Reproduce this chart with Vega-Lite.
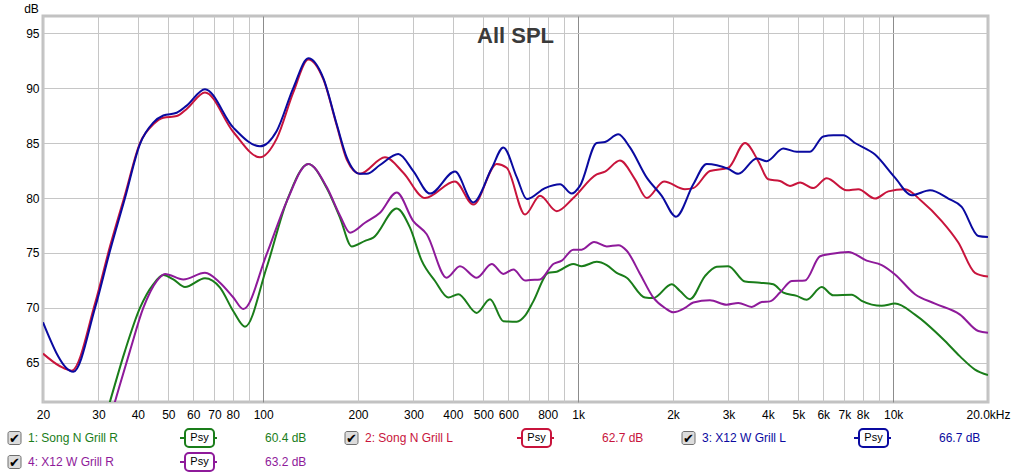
{
  "$schema": "https://vega.github.io/schema/vega-lite/v6.json",
  "background": "white",
  "padding": {"left": 5, "top": 0, "right": 0, "bottom": 0},
  "spacing": 0,
  "config": {"font": "Liberation Sans"},
  "datasets": {
    "curves": [
      {"s": "1: Song N Grill R", "f": 30.33, "db": 58.4},
      {"s": "1: Song N Grill R", "f": 32.64, "db": 61.5},
      {"s": "1: Song N Grill R", "f": 36.42, "db": 66.1},
      {"s": "1: Song N Grill R", "f": 40.63, "db": 70.0},
      {"s": "1: Song N Grill R", "f": 44.78, "db": 72.15},
      {"s": "1: Song N Grill R", "f": 48.19, "db": 73.0},
      {"s": "1: Song N Grill R", "f": 51.84, "db": 72.6},
      {"s": "1: Song N Grill R", "f": 56.47, "db": 71.9},
      {"s": "1: Song N Grill R", "f": 65.35, "db": 72.7},
      {"s": "1: Song N Grill R", "f": 72.94, "db": 71.85},
      {"s": "1: Song N Grill R", "f": 80.41, "db": 69.7},
      {"s": "1: Song N Grill R", "f": 87.56, "db": 68.3},
      {"s": "1: Song N Grill R", "f": 102.6, "db": 73.7},
      {"s": "1: Song N Grill R", "f": 118.8, "db": 79.7},
      {"s": "1: Song N Grill R", "f": 139.1, "db": 83.1},
      {"s": "1: Song N Grill R", "f": 159.1, "db": 80.9},
      {"s": "1: Song N Grill R", "f": 175.4, "db": 78.2},
      {"s": "1: Song N Grill R", "f": 191.0, "db": 75.6},
      {"s": "1: Song N Grill R", "f": 210.5, "db": 76.1},
      {"s": "1: Song N Grill R", "f": 223.7, "db": 76.4},
      {"s": "1: Song N Grill R", "f": 265.4, "db": 79.05},
      {"s": "1: Song N Grill R", "f": 292.5, "db": 77.3},
      {"s": "1: Song N Grill R", "f": 318.6, "db": 74.3},
      {"s": "1: Song N Grill R", "f": 351.2, "db": 72.45},
      {"s": "1: Song N Grill R", "f": 386.9, "db": 70.95},
      {"s": "1: Song N Grill R", "f": 416.3, "db": 71.25},
      {"s": "1: Song N Grill R", "f": 476.3, "db": 69.55},
      {"s": "1: Song N Grill R", "f": 525.0, "db": 70.8},
      {"s": "1: Song N Grill R", "f": 578.6, "db": 68.8},
      {"s": "1: Song N Grill R", "f": 638.3, "db": 68.75},
      {"s": "1: Song N Grill R", "f": 678.2, "db": 69.3},
      {"s": "1: Song N Grill R", "f": 720.5, "db": 70.6},
      {"s": "1: Song N Grill R", "f": 804.0, "db": 73.2},
      {"s": "1: Song N Grill R", "f": 854.9, "db": 73.3},
      {"s": "1: Song N Grill R", "f": 965, "db": 74.0},
      {"s": "1: Song N Grill R", "f": 1026, "db": 73.8},
      {"s": "1: Song N Grill R", "f": 1145, "db": 74.2},
      {"s": "1: Song N Grill R", "f": 1232, "db": 73.9},
      {"s": "1: Song N Grill R", "f": 1325, "db": 73.2},
      {"s": "1: Song N Grill R", "f": 1426, "db": 72.75},
      {"s": "1: Song N Grill R", "f": 1630, "db": 70.95},
      {"s": "1: Song N Grill R", "f": 1732, "db": 70.9},
      {"s": "1: Song N Grill R", "f": 1981, "db": 72.15},
      {"s": "1: Song N Grill R", "f": 2105, "db": 71.55},
      {"s": "1: Song N Grill R", "f": 2265, "db": 70.8},
      {"s": "1: Song N Grill R", "f": 2527, "db": 72.9},
      {"s": "1: Song N Grill R", "f": 2753, "db": 73.75},
      {"s": "1: Song N Grill R", "f": 2996, "db": 73.8},
      {"s": "1: Song N Grill R", "f": 3386, "db": 72.4},
      {"s": "1: Song N Grill R", "f": 3778, "db": 72.3},
      {"s": "1: Song N Grill R", "f": 4163, "db": 72.15},
      {"s": "1: Song N Grill R", "f": 4479, "db": 71.4},
      {"s": "1: Song N Grill R", "f": 4940, "db": 71.1},
      {"s": "1: Song N Grill R", "f": 5315, "db": 70.75},
      {"s": "1: Song N Grill R", "f": 5930, "db": 71.9},
      {"s": "1: Song N Grill R", "f": 6455, "db": 71.15},
      {"s": "1: Song N Grill R", "f": 7385, "db": 71.2},
      {"s": "1: Song N Grill R", "f": 7944, "db": 70.65},
      {"s": "1: Song N Grill R", "f": 9197, "db": 70.2},
      {"s": "1: Song N Grill R", "f": 10134, "db": 70.4},
      {"s": "1: Song N Grill R", "f": 11728, "db": 69.4},
      {"s": "1: Song N Grill R", "f": 14608, "db": 67.0},
      {"s": "1: Song N Grill R", "f": 16299, "db": 65.6},
      {"s": "1: Song N Grill R", "f": 18186, "db": 64.4},
      {"s": "1: Song N Grill R", "f": 20000, "db": 63.9},

      {"s": "2: Song N Grill L", "f": 20, "db": 65.85},
      {"s": "2: Song N Grill L", "f": 22.65, "db": 64.7},
      {"s": "2: Song N Grill L", "f": 24.67, "db": 64.3},
      {"s": "2: Song N Grill L", "f": 29.25, "db": 70.4},
      {"s": "2: Song N Grill L", "f": 32.64, "db": 75.6},
      {"s": "2: Song N Grill L", "f": 36.42, "db": 80.3},
      {"s": "2: Song N Grill L", "f": 40.63, "db": 85.0},
      {"s": "2: Song N Grill L", "f": 44.78, "db": 86.7},
      {"s": "2: Song N Grill L", "f": 48.19, "db": 87.3},
      {"s": "2: Song N Grill L", "f": 53.15, "db": 87.45},
      {"s": "2: Song N Grill L", "f": 57.18, "db": 88.1},
      {"s": "2: Song N Grill L", "f": 65.35, "db": 89.6},
      {"s": "2: Song N Grill L", "f": 80.41, "db": 86.0},
      {"s": "2: Song N Grill L", "f": 97.71, "db": 83.7},
      {"s": "2: Song N Grill L", "f": 110.4, "db": 85.4},
      {"s": "2: Song N Grill L", "f": 124.6, "db": 89.6},
      {"s": "2: Song N Grill L", "f": 139.1, "db": 92.6},
      {"s": "2: Song N Grill L", "f": 155.2, "db": 90.8},
      {"s": "2: Song N Grill L", "f": 171.2, "db": 86.6},
      {"s": "2: Song N Grill L", "f": 184.2, "db": 83.5},
      {"s": "2: Song N Grill L", "f": 202.9, "db": 82.2},
      {"s": "2: Song N Grill L", "f": 243.6, "db": 83.7},
      {"s": "2: Song N Grill L", "f": 278.5, "db": 82.3},
      {"s": "2: Song N Grill L", "f": 326.4, "db": 80.0},
      {"s": "2: Song N Grill L", "f": 406.3, "db": 81.5},
      {"s": "2: Song N Grill L", "f": 464.6, "db": 79.4},
      {"s": "2: Song N Grill L", "f": 551.4, "db": 83.1},
      {"s": "2: Song N Grill L", "f": 593.2, "db": 82.75},
      {"s": "2: Song N Grill L", "f": 678.2, "db": 78.5},
      {"s": "2: Song N Grill L", "f": 756.7, "db": 80.2},
      {"s": "2: Song N Grill L", "f": 854.9, "db": 78.8},
      {"s": "2: Song N Grill L", "f": 965, "db": 80.0},
      {"s": "2: Song N Grill L", "f": 1145, "db": 82.15},
      {"s": "2: Song N Grill L", "f": 1217, "db": 82.4},
      {"s": "2: Song N Grill L", "f": 1357, "db": 83.4},
      {"s": "2: Song N Grill L", "f": 1515, "db": 81.7},
      {"s": "2: Song N Grill L", "f": 1651, "db": 80.0},
      {"s": "2: Song N Grill L", "f": 1873, "db": 81.5},
      {"s": "2: Song N Grill L", "f": 2183, "db": 80.8},
      {"s": "2: Song N Grill L", "f": 2320, "db": 80.9},
      {"s": "2: Song N Grill L", "f": 2620, "db": 82.45},
      {"s": "2: Song N Grill L", "f": 2996, "db": 82.75},
      {"s": "2: Song N Grill L", "f": 3386, "db": 85.0},
      {"s": "2: Song N Grill L", "f": 3731, "db": 83.35},
      {"s": "2: Song N Grill L", "f": 4014, "db": 81.7},
      {"s": "2: Song N Grill L", "f": 4372, "db": 81.55},
      {"s": "2: Song N Grill L", "f": 4704, "db": 81.1},
      {"s": "2: Song N Grill L", "f": 5061, "db": 81.4},
      {"s": "2: Song N Grill L", "f": 5578, "db": 80.9},
      {"s": "2: Song N Grill L", "f": 6151, "db": 81.8},
      {"s": "2: Song N Grill L", "f": 7120, "db": 80.7},
      {"s": "2: Song N Grill L", "f": 7749, "db": 80.8},
      {"s": "2: Song N Grill L", "f": 8757, "db": 79.95},
      {"s": "2: Song N Grill L", "f": 9650, "db": 80.6},
      {"s": "2: Song N Grill L", "f": 10903, "db": 80.8},
      {"s": "2: Song N Grill L", "f": 12320, "db": 79.7},
      {"s": "2: Song N Grill L", "f": 14260, "db": 77.9},
      {"s": "2: Song N Grill L", "f": 16098, "db": 75.95},
      {"s": "2: Song N Grill L", "f": 18186, "db": 73.2},
      {"s": "2: Song N Grill L", "f": 20000, "db": 72.85},

      {"s": "3: X12 W Grill L", "f": 20, "db": 68.7},
      {"s": "3: X12 W Grill L", "f": 24.96, "db": 64.2},
      {"s": "3: X12 W Grill L", "f": 29.25, "db": 70.0},
      {"s": "3: X12 W Grill L", "f": 32.64, "db": 75.2},
      {"s": "3: X12 W Grill L", "f": 36.42, "db": 80.0},
      {"s": "3: X12 W Grill L", "f": 40.63, "db": 84.9},
      {"s": "3: X12 W Grill L", "f": 44.78, "db": 86.85},
      {"s": "3: X12 W Grill L", "f": 48.19, "db": 87.5},
      {"s": "3: X12 W Grill L", "f": 53.15, "db": 87.75},
      {"s": "3: X12 W Grill L", "f": 57.18, "db": 88.4},
      {"s": "3: X12 W Grill L", "f": 65.35, "db": 89.9},
      {"s": "3: X12 W Grill L", "f": 80.41, "db": 86.4},
      {"s": "3: X12 W Grill L", "f": 97.71, "db": 84.7},
      {"s": "3: X12 W Grill L", "f": 110.4, "db": 86.1},
      {"s": "3: X12 W Grill L", "f": 124.6, "db": 90.0},
      {"s": "3: X12 W Grill L", "f": 139.1, "db": 92.7},
      {"s": "3: X12 W Grill L", "f": 155.2, "db": 90.9},
      {"s": "3: X12 W Grill L", "f": 171.2, "db": 86.7},
      {"s": "3: X12 W Grill L", "f": 184.2, "db": 83.7},
      {"s": "3: X12 W Grill L", "f": 202.9, "db": 82.2},
      {"s": "3: X12 W Grill L", "f": 213.2, "db": 82.2},
      {"s": "3: X12 W Grill L", "f": 234.9, "db": 83.0},
      {"s": "3: X12 W Grill L", "f": 268.5, "db": 84.0},
      {"s": "3: X12 W Grill L", "f": 299.6, "db": 82.45},
      {"s": "3: X12 W Grill L", "f": 338.6, "db": 80.4},
      {"s": "3: X12 W Grill L", "f": 406.3, "db": 82.4},
      {"s": "3: X12 W Grill L", "f": 464.6, "db": 79.6},
      {"s": "3: X12 W Grill L", "f": 531.6, "db": 82.7},
      {"s": "3: X12 W Grill L", "f": 578.6, "db": 84.6},
      {"s": "3: X12 W Grill L", "f": 638.3, "db": 81.9},
      {"s": "3: X12 W Grill L", "f": 687, "db": 79.9},
      {"s": "3: X12 W Grill L", "f": 784.8, "db": 80.9},
      {"s": "3: X12 W Grill L", "f": 875.8, "db": 81.25},
      {"s": "3: X12 W Grill L", "f": 953.8, "db": 80.4},
      {"s": "3: X12 W Grill L", "f": 1013, "db": 81.1},
      {"s": "3: X12 W Grill L", "f": 1145, "db": 85.0},
      {"s": "3: X12 W Grill L", "f": 1217, "db": 85.1},
      {"s": "3: X12 W Grill L", "f": 1341, "db": 85.8},
      {"s": "3: X12 W Grill L", "f": 1460, "db": 84.6},
      {"s": "3: X12 W Grill L", "f": 1651, "db": 81.85},
      {"s": "3: X12 W Grill L", "f": 1842, "db": 80.2},
      {"s": "3: X12 W Grill L", "f": 2044, "db": 78.3},
      {"s": "3: X12 W Grill L", "f": 2320, "db": 81.25},
      {"s": "3: X12 W Grill L", "f": 2559, "db": 83.1},
      {"s": "3: X12 W Grill L", "f": 2996, "db": 82.65},
      {"s": "3: X12 W Grill L", "f": 3224, "db": 82.2},
      {"s": "3: X12 W Grill L", "f": 3688, "db": 83.6},
      {"s": "3: X12 W Grill L", "f": 3967, "db": 83.35},
      {"s": "3: X12 W Grill L", "f": 4479, "db": 84.5},
      {"s": "3: X12 W Grill L", "f": 4940, "db": 84.2},
      {"s": "3: X12 W Grill L", "f": 5444, "db": 84.2},
      {"s": "3: X12 W Grill L", "f": 6000, "db": 85.6},
      {"s": "3: X12 W Grill L", "f": 6455, "db": 85.7},
      {"s": "3: X12 W Grill L", "f": 6945, "db": 85.7},
      {"s": "3: X12 W Grill L", "f": 7565, "db": 85.0},
      {"s": "3: X12 W Grill L", "f": 8757, "db": 83.95},
      {"s": "3: X12 W Grill L", "f": 10134, "db": 81.85},
      {"s": "3: X12 W Grill L", "f": 11449, "db": 80.25},
      {"s": "3: X12 W Grill L", "f": 13090, "db": 80.7},
      {"s": "3: X12 W Grill L", "f": 14962, "db": 79.95},
      {"s": "3: X12 W Grill L", "f": 16500, "db": 79.2},
      {"s": "3: X12 W Grill L", "f": 18630, "db": 76.55},
      {"s": "3: X12 W Grill L", "f": 20000, "db": 76.45},

      {"s": "4: X12 W Grill R", "f": 31.47, "db": 58.4},
      {"s": "4: X12 W Grill R", "f": 33.86, "db": 61.5},
      {"s": "4: X12 W Grill R", "f": 37.77, "db": 66.1},
      {"s": "4: X12 W Grill R", "f": 41.63, "db": 70.0},
      {"s": "4: X12 W Grill R", "f": 45.91, "db": 72.45},
      {"s": "4: X12 W Grill R", "f": 48.79, "db": 73.1},
      {"s": "4: X12 W Grill R", "f": 55.78, "db": 72.6},
      {"s": "4: X12 W Grill R", "f": 65.35, "db": 73.2},
      {"s": "4: X12 W Grill R", "f": 72.94, "db": 72.3},
      {"s": "4: X12 W Grill R", "f": 80.41, "db": 70.95},
      {"s": "4: X12 W Grill R", "f": 86.47, "db": 69.9},
      {"s": "4: X12 W Grill R", "f": 102.6, "db": 74.9},
      {"s": "4: X12 W Grill R", "f": 118.8, "db": 79.7},
      {"s": "4: X12 W Grill R", "f": 139.1, "db": 83.1},
      {"s": "4: X12 W Grill R", "f": 159.1, "db": 81.0},
      {"s": "4: X12 W Grill R", "f": 175.4, "db": 78.4},
      {"s": "4: X12 W Grill R", "f": 188.7, "db": 76.85},
      {"s": "4: X12 W Grill R", "f": 210.5, "db": 77.75},
      {"s": "4: X12 W Grill R", "f": 234.9, "db": 78.65},
      {"s": "4: X12 W Grill R", "f": 265.4, "db": 80.5},
      {"s": "4: X12 W Grill R", "f": 299.6, "db": 77.9},
      {"s": "4: X12 W Grill R", "f": 330.5, "db": 76.7},
      {"s": "4: X12 W Grill R", "f": 382.4, "db": 72.75},
      {"s": "4: X12 W Grill R", "f": 421.5, "db": 73.8},
      {"s": "4: X12 W Grill R", "f": 476.3, "db": 72.75},
      {"s": "4: X12 W Grill R", "f": 531.6, "db": 74.0},
      {"s": "4: X12 W Grill R", "f": 578.6, "db": 73.1},
      {"s": "4: X12 W Grill R", "f": 622.6, "db": 73.5},
      {"s": "4: X12 W Grill R", "f": 678.2, "db": 72.5},
      {"s": "4: X12 W Grill R", "f": 703.3, "db": 72.55},
      {"s": "4: X12 W Grill R", "f": 756.7, "db": 72.6},
      {"s": "4: X12 W Grill R", "f": 833.9, "db": 74.0},
      {"s": "4: X12 W Grill R", "f": 886.7, "db": 74.3},
      {"s": "4: X12 W Grill R", "f": 965, "db": 75.3},
      {"s": "4: X12 W Grill R", "f": 1026, "db": 75.3},
      {"s": "4: X12 W Grill R", "f": 1123, "db": 76.0},
      {"s": "4: X12 W Grill R", "f": 1232, "db": 75.6},
      {"s": "4: X12 W Grill R", "f": 1341, "db": 75.7},
      {"s": "4: X12 W Grill R", "f": 1426, "db": 75.2},
      {"s": "4: X12 W Grill R", "f": 1572, "db": 73.1},
      {"s": "4: X12 W Grill R", "f": 1732, "db": 70.95},
      {"s": "4: X12 W Grill R", "f": 1886, "db": 70.0},
      {"s": "4: X12 W Grill R", "f": 2004, "db": 69.6},
      {"s": "4: X12 W Grill R", "f": 2183, "db": 70.0},
      {"s": "4: X12 W Grill R", "f": 2320, "db": 70.5},
      {"s": "4: X12 W Grill R", "f": 2620, "db": 70.7},
      {"s": "4: X12 W Grill R", "f": 2961, "db": 70.3},
      {"s": "4: X12 W Grill R", "f": 3224, "db": 70.45},
      {"s": "4: X12 W Grill R", "f": 3556, "db": 70.1},
      {"s": "4: X12 W Grill R", "f": 3825, "db": 70.55},
      {"s": "4: X12 W Grill R", "f": 4064, "db": 70.6},
      {"s": "4: X12 W Grill R", "f": 4372, "db": 71.4},
      {"s": "4: X12 W Grill R", "f": 4763, "db": 72.45},
      {"s": "4: X12 W Grill R", "f": 5249, "db": 72.5},
      {"s": "4: X12 W Grill R", "f": 5857, "db": 74.7},
      {"s": "4: X12 W Grill R", "f": 6301, "db": 74.9},
      {"s": "4: X12 W Grill R", "f": 7204, "db": 75.1},
      {"s": "4: X12 W Grill R", "f": 8240, "db": 74.3},
      {"s": "4: X12 W Grill R", "f": 9197, "db": 73.9},
      {"s": "4: X12 W Grill R", "f": 10134, "db": 73.05},
      {"s": "4: X12 W Grill R", "f": 11728, "db": 71.25},
      {"s": "4: X12 W Grill R", "f": 13577, "db": 70.4},
      {"s": "4: X12 W Grill R", "f": 16299, "db": 69.4},
      {"s": "4: X12 W Grill R", "f": 18630, "db": 67.9},
      {"s": "4: X12 W Grill R", "f": 20000, "db": 67.75}
    ],
    "legend": [
      {"s": "1: Song N Grill R", "col": 0, "row": 0, "value": "60.4 dB"},
      {"s": "2: Song N Grill L", "col": 1, "row": 0, "value": "62.7 dB"},
      {"s": "3: X12 W Grill L", "col": 2, "row": 0, "value": "66.7 dB"},
      {"s": "4: X12 W Grill R", "col": 0, "row": 1, "value": "63.2 dB"}
    ]
  },
  "vconcat": [
    {
      "width": 945,
      "height": 386,
      "view": {"stroke": "#c2c2c2", "strokeWidth": 3},
      "layer": [
        {
          "data": {"name": "curves"},
          "mark": {"type": "line", "strokeWidth": 2, "interpolate": "monotone", "clip": true},
          "encoding": {
            "x": {
              "field": "f", "type": "quantitative",
              "scale": {"type": "log", "domain": [20, 20000], "nice": false},
              "axis": {
                "title": null,
                "values": [20, 30, 40, 50, 60, 70, 80, 90, 100, 200, 300, 400, 500, 600, 700, 800, 900, 1000, 2000, 3000, 4000, 5000, 6000, 7000, 8000, 9000, 10000, 20000],
                "labelExpr": "indexof([90, 700, 900, 9000], datum.value) >= 0 ? '' : (datum.value >= 20000 ? '20.0kHz' : (datum.value >= 1000 ? (datum.value / 1000) + 'k' : '' + datum.value))",
                "grid": true,
                "gridColor": {"condition": {"test": "datum.value == 100 || datum.value == 1000 || datum.value == 10000", "value": "#8c8c8c"}, "value": "#c6c6c6"},
                "ticks": false, "domain": false,
                "labelPadding": 7, "labelFontSize": 12, "labelFont": "Liberation Sans", "labelColor": "#000000",
                "labelOverlap": false, "labelBound": false, "labelFlush": false
              }
            },
            "y": {
              "field": "db", "type": "quantitative",
              "scale": {"domain": [61.45, 96.55], "nice": false, "zero": false},
              "axis": {
                "values": [65, 70, 75, 80, 85, 90, 95],
                "grid": true, "gridColor": "#c6c6c6",
                "ticks": false, "domain": false,
                "labelPadding": 4, "labelFontSize": 12, "labelFont": "Liberation Sans", "labelColor": "#000000",
                "title": "dB", "titleAngle": 0, "titleX": -12, "titleY": -8, "titleAlign": "center", "titleBaseline": "middle",
                "titleFontWeight": "normal", "titleFontSize": 12, "titleFont": "Liberation Sans", "titleColor": "#000000",
                "minExtent": 36
              }
            },
            "color": {
              "field": "s", "type": "nominal",
              "scale": {"domain": ["1: Song N Grill R", "2: Song N Grill L", "3: X12 W Grill L", "4: X12 W Grill R"], "range": ["#1a7d1a", "#c8143c", "#0a0aa0", "#8e1a9a"]},
              "legend": null
            }
          }
        },
        {
          "data": {"values": [{"t": "All SPL"}]},
          "mark": {"type": "text", "fontSize": 22, "fontWeight": "bold", "color": "#3a3a3a", "font": "Liberation Sans", "align": "center", "baseline": "middle"},
          "encoding": {
            "x": {"datum": 632.5, "type": "quantitative"},
            "y": {"datum": 94.7, "type": "quantitative"},
            "text": {"field": "t"}
          }
        }
      ]
    },
    {
      "width": 1000,
      "height": 48,
      "view": {"stroke": null},
      "data": {"name": "legend"},
      "encoding": {
        "x": {"field": "col", "type": "quantitative", "scale": {"domain": [0, 3], "range": [-38, 973]}, "axis": null},
        "y": {"field": "row", "type": "quantitative", "scale": {"domain": [0, 1], "range": [16, 40]}, "axis": null},
        "color": {
          "field": "s", "type": "nominal",
          "scale": {"domain": ["1: Song N Grill R", "2: Song N Grill L", "3: X12 W Grill L", "4: X12 W Grill R"], "range": ["#1a7d1a", "#c8143c", "#0a0aa0", "#8e1a9a"]},
          "legend": null
        }
      },
      "layer": [
        {
          "mark": {"type": "rect", "xOffset": 3, "x2Offset": 16, "yOffset": -6.5, "y2Offset": 6.5, "fill": "#dcdcdc", "stroke": "#6e6e6e", "strokeWidth": 1, "cornerRadius": 2},
          "encoding": {"x2": {"field": "col"}, "y2": {"field": "row"}, "color": {"value": null}}
        },
        {
          "mark": {"type": "text", "text": "✔", "xOffset": 9.5, "yOffset": 0.5, "fontSize": 13, "font": "DejaVu Sans", "align": "center", "baseline": "middle", "color": "#000000"},
          "encoding": {"color": {"value": "#000000"}}
        },
        {
          "mark": {"type": "text", "align": "left", "baseline": "middle", "xOffset": 23, "fontSize": 12, "font": "Liberation Sans"},
          "encoding": {"text": {"field": "s"}}
        },
        {
          "mark": {"type": "rule", "xOffset": 175, "x2Offset": 212, "strokeWidth": 2},
          "encoding": {"x2": {"field": "col"}}
        },
        {
          "mark": {"type": "rect", "xOffset": 180, "x2Offset": 209, "yOffset": -9, "y2Offset": 9, "fill": "#ffffff", "strokeWidth": 2, "cornerRadius": 4},
          "encoding": {"x2": {"field": "col"}, "y2": {"field": "row"}, "stroke": {"field": "s", "type": "nominal", "scale": {"domain": ["1: Song N Grill R", "2: Song N Grill L", "3: X12 W Grill L", "4: X12 W Grill R"], "range": ["#1a7d1a", "#c8143c", "#0a0aa0", "#8e1a9a"]}, "legend": null}, "color": {"value": null}}
        },
        {
          "mark": {"type": "text", "text": "Psy", "xOffset": 194.5, "fontSize": 11, "font": "Liberation Sans", "align": "center", "baseline": "middle", "color": "#000000"},
          "encoding": {"color": {"value": "#000000"}}
        },
        {
          "mark": {"type": "text", "align": "left", "baseline": "middle", "xOffset": 260, "fontSize": 12, "font": "Liberation Sans"},
          "encoding": {"text": {"field": "value"}}
        }
      ]
    }
  ]
}
